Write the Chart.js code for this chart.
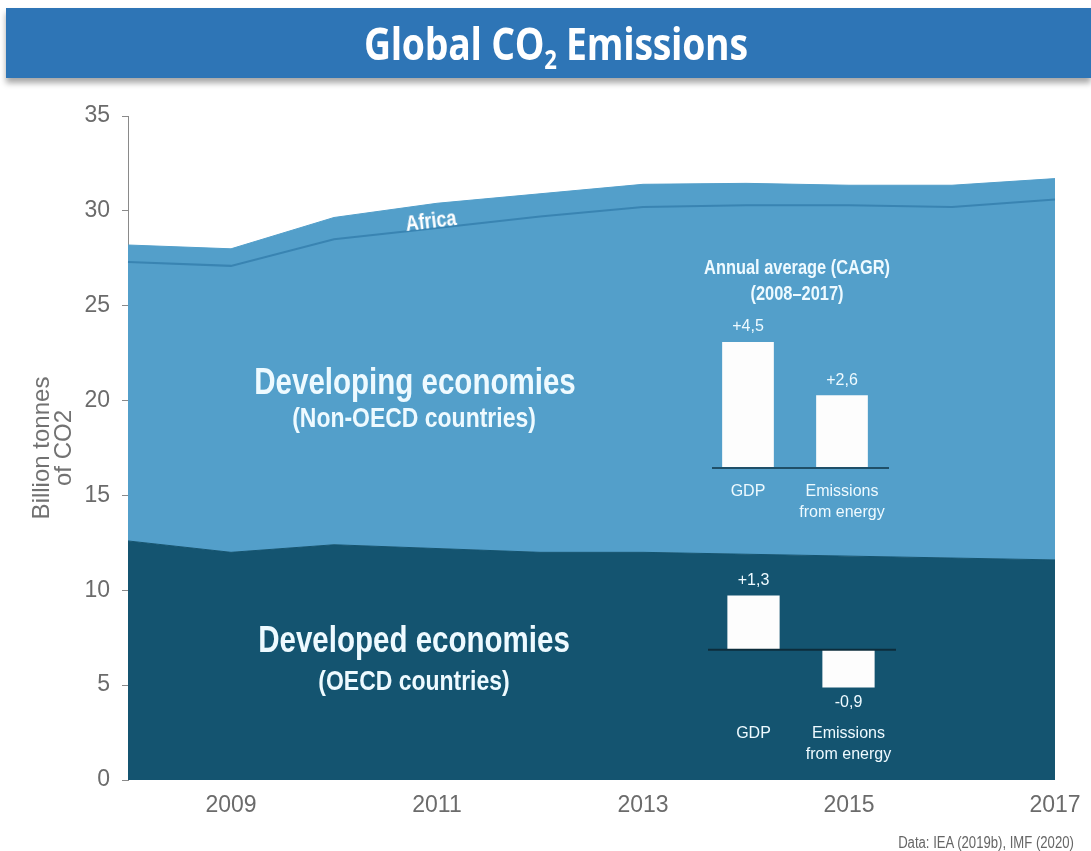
<!DOCTYPE html>
<html>
<head>
<meta charset="utf-8">
<script src="https://cdn.jsdelivr.net/npm/chart.js@4.4.1/dist/chart.umd.min.js"></script>
<style>
    body { margin: 0; background: #ffffff; width: 1091px; height: 851px; overflow: hidden; position: relative; }
    canvas { position: absolute; }
    #title-bar {
        position: absolute; left: 6px; top: 8px; width: 1085px; height: 70px;
        background: #2e75b6; box-shadow: 0 5px 6px rgba(0,0,0,0.35); z-index: 5;
        display: flex; align-items: center; justify-content: center;
    }
    #title-bar span {
        display: inline-block; color: #ffffff; font-family: 'Open Sans', sans-serif;
        font-weight: 700; font-size: 44px; transform: translateX(7px) scaleX(0.85); letter-spacing: -0.3px;
    }
    #title-bar sub { font-size: 26px; vertical-align: -9px; line-height: 0; }
    .note {
        position: absolute; white-space: nowrap;
        font-family: 'Liberation Sans', Arial, sans-serif; z-index: 3;
    }
</style>
</head>
<body>
<div id="title-bar"><span>Global CO<sub>2</sub> Emissions</span></div>
<canvas id="co2Chart" width="1091" height="851" style="left:0;top:0"></canvas>
<canvas id="nonOecdInset" width="240" height="280" style="left:680px;top:250px"></canvas>
<canvas id="oecdInset" width="240" height="230" style="left:680px;top:560px"></canvas>
<div id="notes"></div>

<script>
// Emissions, billion tonnes of CO2 (stacked)
const years = ['2008', '2009', '2010', '2011', '2012', '2013', '2014', '2015', '2016', '2017'];
const oecd = [12.6, 12.0, 12.4, 12.2, 12.0, 12.0, 11.9, 11.8, 11.7, 11.6];
const nonOecd = [14.7, 15.1, 16.1, 16.9, 17.7, 18.2, 18.4, 18.5, 18.5, 19.0];
const africa = [0.9, 0.9, 1.15, 1.3, 1.2, 1.2, 1.15, 1.05, 1.15, 1.1];
const yTicks = [0, 5, 10, 15, 20, 25, 30, 35];
const shownYears = ['2009', '2011', '2013', '2015', '2017'];

// Annual average growth (CAGR 2008-2017), %
const cagrLabels = ['GDP', ['Emissions', 'from energy']];
const nonOecdCagr = [4.5, 2.6];
const oecdCagr = [1.3, -0.9];

const FONT = "'Liberation Sans', Arial, sans-serif";
const LIGHT = '#539fca';
const DARK = '#145470';
const TEXT_LIGHT = '#eefaff';

document.addEventListener('DOMContentLoaded', function() {
    addNotes();
    initializeMainChart();
    initializeInset('nonOecdInset', nonOecdCagr, {
        min: 0, max: 6, padding: { left: 21, right: 31, top: 50, bottom: 0 },
        axisHeight: 62, tickPadding: 5, baseColor: '#1f4f68', baseInset: 11
    });
    initializeInset('oecdInset', oecdCagr, {
        min: -1.2, max: 1.6, padding: { left: 26, right: 24, top: 23, bottom: 0 },
        axisHeight: 90, tickPadding: 15, baseColor: '#0c2c3b', baseInset: 2
    });
});

function addNotes() {
    // text drawn a bit condensed, like the narrow face of the original
    const notes = [
        { text: 'Developing economies', x: 415, y: 382, size: 36, bold: true, color: TEXT_LIGHT },
        { text: '(Non-OECD countries)', x: 414, y: 418, size: 28, bold: true, color: TEXT_LIGHT },
        { text: 'Developed economies', x: 414, y: 640, size: 36, bold: true, color: TEXT_LIGHT },
        { text: '(OECD countries)', x: 414, y: 681, size: 28, bold: true, color: TEXT_LIGHT },
        { text: 'Africa', x: 431, y: 221, size: 22, bold: true, color: '#ffffff', rotate: -7 },
        { text: 'Annual average (CAGR)', x: 797, y: 267, size: 20, bold: true, color: TEXT_LIGHT },
        { text: '(2008\u20132017)', x: 797, y: 293, size: 20, bold: true, color: TEXT_LIGHT },
        { text: 'Data: IEA (2019b), IMF (2020)', x: 986, y: 843, size: 16, bold: false, color: '#666666' }
    ];
    const container = document.getElementById('notes');
    notes.forEach(n => {
        const div = document.createElement('div');
        div.className = 'note';
        div.textContent = n.text;
        div.style.left = n.x + 'px';
        div.style.top = n.y + 'px';
        div.style.fontSize = n.size + 'px';
        div.style.fontWeight = n.bold ? '700' : '400';
        div.style.color = n.color;
        const rot = n.rotate ? ' rotate(' + n.rotate + 'deg)' : '';
        div.style.transform = 'translate(-50%, -50%)' + rot + ' scaleX(0.82)';
        container.appendChild(div);
    });
}

function initializeMainChart() {
    const ctx = document.getElementById('co2Chart').getContext('2d');
    new Chart(ctx, {
        type: 'line',
        data: {
            labels: years,
            datasets: [{
                label: 'Developed economies',
                data: oecd,
                backgroundColor: DARK,
                borderColor: DARK,
                borderWidth: 1,
                fill: 'origin'
            }, {
                label: 'Developing economies',
                data: nonOecd,
                backgroundColor: LIGHT,
                borderColor: '#3984b2',
                borderWidth: 2,
                fill: '-1'
            }, {
                label: 'Africa',
                data: africa,
                backgroundColor: LIGHT,
                borderColor: LIGHT,
                borderWidth: 1,
                fill: '-1'
            }]
        },
        options: {
            responsive: false,
            animation: false,
            elements: { point: { radius: 0 }, line: { tension: 0 } },
            layout: { padding: { left: 0, top: 116, right: 36, bottom: 21 } },
            plugins: {
                legend: { display: false },
                tooltip: { enabled: false }
            },
            scales: {
                x: {
                    offset: false,
                    grid: { display: false },
                    border: { display: false },
                    ticks: {
                        autoSkip: false,
                        maxRotation: 0,
                        padding: 4,
                        color: '#6b6b6b',
                        font: { family: FONT, size: 23 },
                        callback: function(value, index) {
                            const year = years[index];
                            return shownYears.includes(year) ? year : '';
                        }
                    },
                    afterFit: function(scale) { scale.height = 50; }
                },
                y: {
                    stacked: true,
                    min: 0,
                    max: 35,
                    afterBuildTicks: function(scale) {
                        scale.ticks = yTicks.map(v => ({ value: v }));
                    },
                    grid: { drawOnChartArea: false, tickLength: 6, color: '#8a8a8a' },
                    border: { display: true, color: '#8a8a8a', width: 1 },
                    ticks: {
                        padding: 12,
                        color: '#6b6b6b',
                        font: { family: FONT, size: 23 }
                    },
                    title: {
                        display: true,
                        text: ['Billion tonnes', 'of CO2'],
                        color: '#727272',
                        font: { family: FONT, size: 24, lineHeight: 0.92 },
                        padding: { top: 31, bottom: 0 }
                    },
                    afterFit: function(scale) { scale.width = 128; }
                }
            }
        }
    });
}

function formatCagr(value) {
    const text = Math.abs(value).toFixed(1).replace('.', ',');
    return (value >= 0 ? '+' : '-') + text;
}

function initializeInset(canvasId, values, cfg) {
    const ctx = document.getElementById(canvasId).getContext('2d');

    const insetPlugin = {
        id: 'insetDecor',
        afterDatasetsDraw: function(chart) {
            const c = chart.ctx;
            const area = chart.chartArea;
            const zeroY = chart.scales.y.getPixelForValue(0);
            c.save();
            c.strokeStyle = cfg.baseColor;
            c.lineWidth = 2;
            c.beginPath();
            c.moveTo(area.left + cfg.baseInset, zeroY);
            c.lineTo(area.right, zeroY);
            c.stroke();

            c.fillStyle = TEXT_LIGHT;
            c.font = '16px ' + FONT;
            c.textAlign = 'center';
            c.textBaseline = 'middle';
            chart.getDatasetMeta(0).data.forEach((bar, i) => {
                const v = values[i];
                const y = v >= 0 ? bar.y - 15 : bar.y + 15;
                c.fillText(formatCagr(v), bar.x, y);
            });
            c.restore();
        }
    };

    new Chart(ctx, {
        type: 'bar',
        data: {
            labels: cagrLabels,
            datasets: [{
                data: values,
                backgroundColor: '#fdfdfd',
                barPercentage: 0.55,
                categoryPercentage: 1
            }]
        },
        options: {
            responsive: false,
            animation: false,
            layout: { padding: cfg.padding },
            plugins: {
                legend: { display: false },
                tooltip: { enabled: false }
            },
            scales: {
                x: {
                    grid: { display: false },
                    border: { display: false },
                    ticks: {
                        autoSkip: false,
                        minRotation: 0,
                        maxRotation: 0,
                        padding: cfg.tickPadding,
                        color: TEXT_LIGHT,
                        font: { family: FONT, size: 16, lineHeight: 1.3 }
                    },
                    afterFit: function(scale) { scale.height = cfg.axisHeight; }
                },
                y: {
                    display: false,
                    min: cfg.min,
                    max: cfg.max
                }
            }
        },
        plugins: [insetPlugin]
    });
}
</script>
</body>
</html>
